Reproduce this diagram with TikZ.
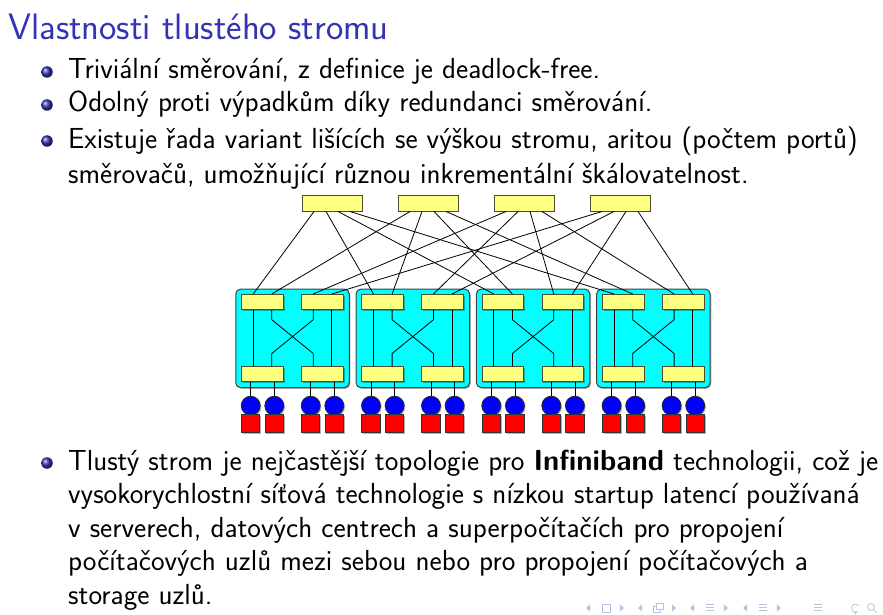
\documentclass[tikz,border=0pt]{standalone}
\usepackage{fontspec}
\setsansfont{Latin Modern Sans}
\usetikzlibrary{shadows}
\definecolor{struct}{RGB}{51,51,179}
\definecolor{swfill}{RGB}{255,255,128}
\definecolor{swdraw}{RGB}{85,75,40}
\definecolor{podfill}{RGB}{0,255,255}
\definecolor{navc}{RGB}{190,190,228}
\begin{document}
\begin{tikzpicture}[x=1pt,y=-1pt,
  shd/.style={drop shadow={shadow xshift=1.2pt,shadow yshift=-1.2pt,opacity=0.3,fill=black}},
  topsw/.style={draw=swdraw,fill=swfill,line width=1pt,minimum width=60pt,minimum height=16pt,inner sep=0pt,shd},
  podsw/.style={topsw,minimum width=41.7pt,minimum height=15pt},
  podbox/.style={draw=black!75,fill=podfill,line width=1pt,rounded corners=5pt,minimum width=113.5pt,minimum height=98.7pt,inner sep=0pt,shd},
  host/.style={circle,draw=black!85,fill=blue,line width=0.8pt,minimum size=19pt,inner sep=0pt,shd},
  disk/.style={draw=black!80,fill=red,line width=0.8pt,minimum size=18.3pt,inner sep=0pt,shd},
  link/.style={line width=0.8pt,black},
  txt/.style={anchor=base west,inner sep=0pt,font=\sffamily\fontsize{29}{34}\selectfont},
  ttl/.style={anchor=base west,inner sep=0pt,text=struct,font=\sffamily\fontsize{36.8}{44}\selectfont},
  bul/.style={circle,inner sep=0pt,minimum size=11.5pt,ball color=struct},
  nav/.style={navc,line width=0.8pt}
]
\useasboundingbox (0,0) rectangle (883,615);
% title
\node[ttl] (title) at (8,40) {Vlastnosti tlustého stromu};
% first list
\node[bul] (b1) at (47,72) {};
\node[txt] (l1) at (68,79) {Triviální směrování, z definice je deadlock-free.};
\node[bul] (b2) at (47,105) {};
\node[txt] (l2) at (68,112) {Odolný proti výpadkům díky redundanci směrování.};
\node[bul] (b3) at (47,141) {};
\node[txt] (l3) at (68,148) {Existuje řada variant lišících se výškou stromu, aritou (počtem portů)};
\node[txt] (l4) at (68,183) {směrovačů, umožňující různou inkrementální škálovatelnost.};
% second list
\node[bul] (b4) at (47,463) {};
\node[txt] (m1) at (68,470) {Tlustý strom je nejčastější topologie pro \textbf{Infiniband} technologii, což je};
\node[txt] (m2) at (68,503.5) {vysokorychlostní síťová technologie s nízkou startup latencí používaná};
\node[txt] (m3) at (68,537) {v serverech, datových centrech a superpočítačích pro propojení};
\node[txt] (m4) at (68,570.5) {počítačových uzlů mezi sebou nebo pro propojení počítačových a};
\node[txt] (m5) at (68,604) {storage uzlů.};
% core switches
\foreach \i/\x in {1/332,2/428,3/524,4/620}{
  \node[topsw] (core\i) at (\x,203) {};
}
% pods
\foreach \k in {1,...,4}{
  \pgfmathsetmacro\cx{292.5+120.3*(\k-1)}
  \node[podbox] (pod\k) at (\cx,338.35) {};
  \node[podsw] (ua\k) at (\cx-30,302) {};
  \node[podsw] (ub\k) at (\cx+30,302) {};
  \node[podsw] (la\k) at (\cx-30,374.2) {};
  \node[podsw] (lb\k) at (\cx+30,374.2) {};
  \draw[link] ([xshift=-9.3pt]ua\k.south) -- ([xshift=-9.3pt]la\k.north);
  \draw[link] ([xshift=9.3pt]ub\k.south) -- ([xshift=9.3pt]lb\k.north);
  \draw[link] ([xshift=9.3pt]ua\k.south) -- ([xshift=9.3pt,yshift=-9.7pt]ua\k.south)
     -- ([xshift=-9.3pt,yshift=12.7pt]lb\k.north) -- ([xshift=-9.3pt]lb\k.north);
  \draw[link] ([xshift=-9.3pt]ub\k.south) -- ([xshift=-9.3pt,yshift=-9.7pt]ub\k.south)
     -- ([xshift=9.3pt,yshift=12.7pt]la\k.north) -- ([xshift=9.3pt]la\k.north);
  \node[host] (h\k a) at (\cx-41.8,405.7) {};
  \node[host] (h\k b) at (\cx-18.2,405.7) {};
  \node[host] (h\k c) at (\cx+18.2,405.7) {};
  \node[host] (h\k d) at (\cx+41.8,405.7) {};
  \node[disk] (s\k a) at (\cx-41.8,423.5) {};
  \node[disk] (s\k b) at (\cx-18.2,423.5) {};
  \node[disk] (s\k c) at (\cx+18.2,423.5) {};
  \node[disk] (s\k d) at (\cx+41.8,423.5) {};
  \draw[link] ([xshift=-11.8pt]la\k.south) -- (h\k a.north);
  \draw[link] ([xshift=11.8pt]la\k.south) -- (h\k b.north);
  \draw[link] ([xshift=-11.8pt]lb\k.south) -- (h\k c.north);
  \draw[link] ([xshift=11.8pt]lb\k.south) -- (h\k d.north);
}
% core links
\foreach \k in {1,...,4}{
  \pgfmathsetmacro\off{(\k-2.5)*12}
  \draw[link] ([xshift=\off pt]core1.south) -- ([xshift=-9.3pt]ua\k.north);
  \draw[link] ([xshift=\off pt]core2.south) -- ([xshift=9.3pt]ua\k.north);
  \draw[link] ([xshift=\off pt]core3.south) -- ([xshift=-9.3pt]ub\k.north);
  \draw[link] ([xshift=\off pt]core4.south) -- ([xshift=9.3pt]ub\k.north);
}
% navigation symbols
\foreach \g/\c in {1/606,2/658,3/710,4/763}{
  \fill[navc] (\c-16,604.5) -- (\c-20,608) -- (\c-16,611.5) -- cycle;
  \fill[navc] (\c+14,604.5) -- (\c+18,608) -- (\c+14,611.5) -- cycle;
}
\draw[nav] (602,604) rectangle (610,612);
\draw[nav,fill=white] (653,606) rectangle (660,612);
\draw[nav,fill=white] (656,603.5) rectangle (663,609.5);
\foreach \c in {710,763,818}{
  \draw[nav] (\c-4,604.5) -- (\c+4,604.5) (\c-4,607.5) -- (\c+4,607.5) (\c-4,610.5) -- (\c+4,610.5);
}
\draw[nav,->,>=stealth] (859,606) arc (30:300:4pt);
\draw[nav] (871,607) circle (3.5pt) (873.5,609.5) -- (876.5,612.5);
\end{tikzpicture}
\end{document}
